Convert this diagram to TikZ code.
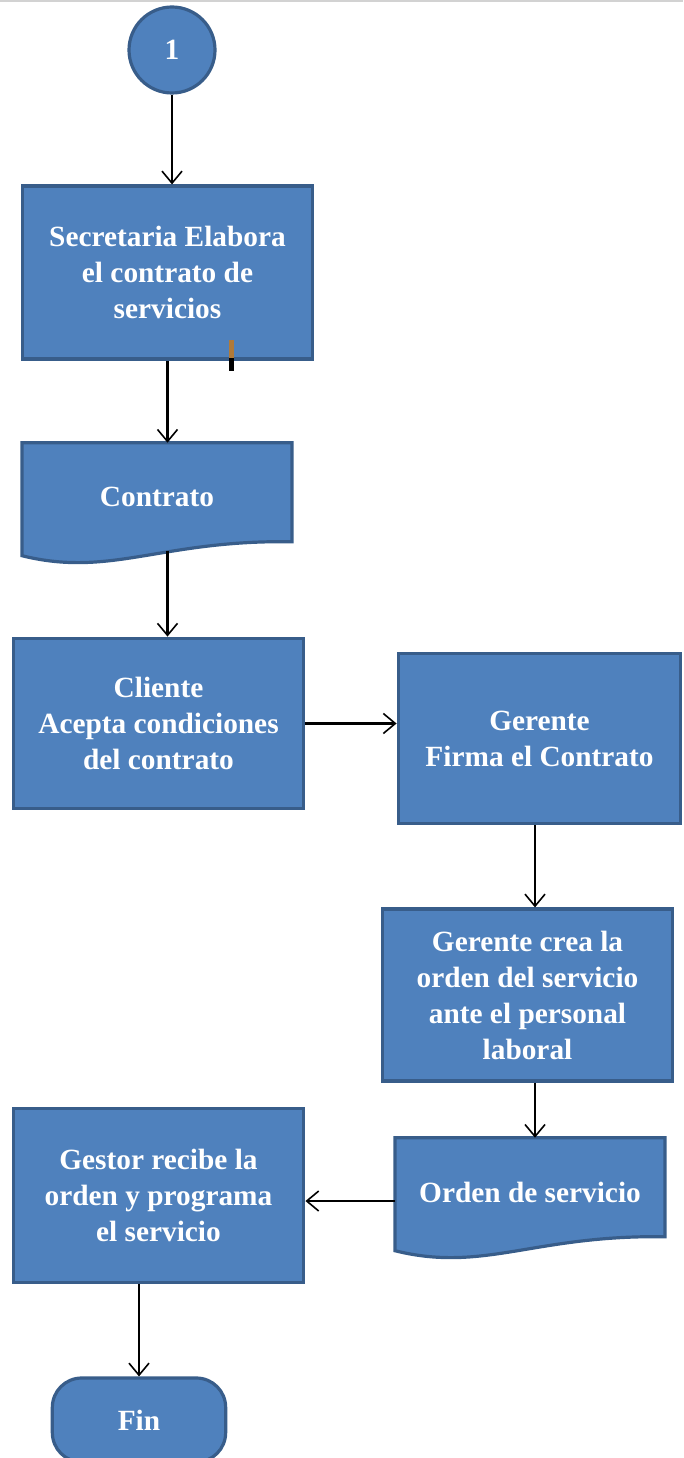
\documentclass[tikz,border=0pt]{standalone}
\usepackage{fontspec}
\setmainfont{Liberation Serif}
\usetikzlibrary{arrows.meta,calc,backgrounds}
\definecolor{boxfill}{HTML}{4F81BD}
\definecolor{boxline}{HTML}{385D8A}
\definecolor{markbrown}{HTML}{B07A3A}

\begin{document}
\begin{tikzpicture}
          [x=0.75pt,y=-0.75pt,
           every node/.style={text=white, font=\fontsize{22}{27}\selectfont\bfseries, align=center, inner sep=0pt},
           proc/.style={rectangle, draw=boxline, fill=boxfill, line width=2.4pt},
           docu/.style={rectangle, minimum width=202pt, minimum height=81pt},
           docline/.style={draw=boxline, fill=boxfill, line width=2.4pt},
           term/.style={rectangle, rounded corners=22pt, draw=boxline, fill=boxfill, line width=2.4pt},
           arr/.style={-{Straight Barb[length=9pt,width=15pt,line width=1.2pt]}, line width=1.8pt}]
        \useasboundingbox (0,0) rectangle (683,1458);
        \draw[gray!35, line width=1.5pt] (0,1) -- (683,1);

        \node[circle, draw=boxline, fill=boxfill, line width=2.4pt, minimum size=64.5pt] (c1) at (172,50) {1};

        \node[proc, minimum width=217.5pt, minimum height=129.75pt] (secr) at (167.5,272.5) {Secretaria Elabora\\el contrato de\\servicios};

        \node[docu] (contr) at (157,497) {Contrato};

        \node[proc, minimum width=218pt, minimum height=128pt] (clien) at (158.5,723.5) {Cliente\\Acepta condiciones\\del contrato};

        \node[proc, minimum width=212pt, minimum height=128pt] (geren) at (539.5,738.5) {Gerente\\Firma el Contrato};

        \node[proc, minimum width=217pt, minimum height=129pt] (crea) at (527.5,995) {Gerente crea la\\orden del servicio\\ante el personal\\laboral};

        \node[docu] (orden) at (530,1192) {Orden de servicio};

        \node[proc, minimum width=218pt, minimum height=130pt] (gestor) at (158.5,1195.5) {Gestor recibe la\\orden y programa\\el servicio};

        \node[term, minimum width=130pt, minimum height=63pt] (fin) at (139,1420) {Fin};

        \begin{scope}[on background layer]
          \foreach \d in {contr, orden}
            \draw[docline] (\d.north west) -- (\d.north east) -- ($(\d.north east)+(0,99)$)
              .. controls ($(\d.north west)+(139,97)$) and ($(\d.north west)+(89,135)$) .. ($(\d.north west)+(0,113)$) -- cycle;
        \end{scope}

        \fill[markbrown] (229,340) rectangle (234,358);
        \fill[black] (229,358) rectangle (234,371);

        \coordinate (colB) at (535,0);
        \coordinate (ordin) at ($(orden.west)+(0,9)$);

        \draw[arr] (c1.south) -- (c1.south |- secr.north);
        \draw[arr] (secr.south) -- (secr.south |- contr.north);
        \draw[arr] (secr.south |- contr.south) -- (secr.south |- clien.north);
        \draw[arr] (clien.east) -- (clien.east -| geren.west);
        \draw[arr] (colB |- geren.south) -- (colB |- crea.north);
        \draw[arr] (colB |- crea.south) -- (colB |- orden.north);
        \draw[arr] (ordin) -- (ordin -| gestor.east);
        \draw[arr] (fin.north |- gestor.south) -- (fin.north);
      \end{tikzpicture}
\end{document}
